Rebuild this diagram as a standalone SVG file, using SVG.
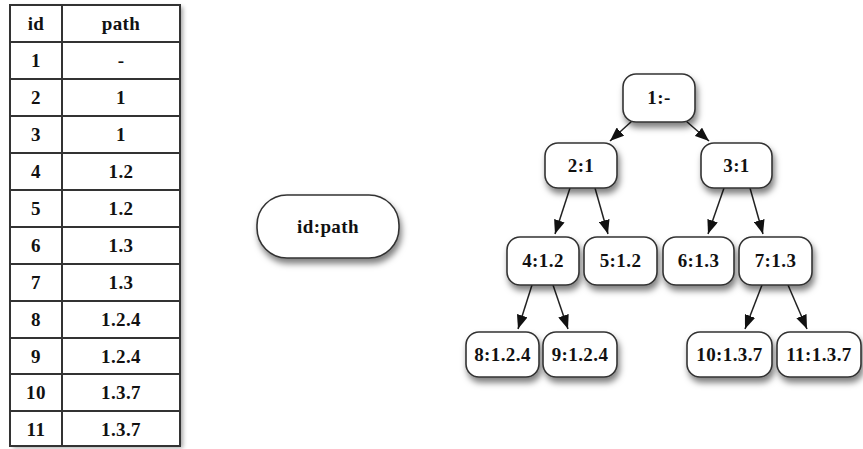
<svg xmlns="http://www.w3.org/2000/svg" width="863" height="449" viewBox="0 0 863 449">
<style>
  .t{font-family:"Liberation Serif","Times New Roman",serif;font-weight:bold;font-size:19px;letter-spacing:0.4px;fill:#111;text-anchor:middle}
  .node{fill:#fff;stroke:#333;stroke-width:1.6}
  .edge{stroke:#222;stroke-width:1.5;fill:none}
  .grid{stroke:#333;stroke-width:2;fill:none}
</style>
<defs>
  <filter id="sh" x="-20%" y="-20%" width="150%" height="160%">
    <feDropShadow dx="2" dy="5" stdDeviation="3" flood-color="#000" flood-opacity="0.5"/>
  </filter>
  <filter id="tsh" x="-5%" y="-5%" width="115%" height="110%">
    <feDropShadow dx="3" dy="2" stdDeviation="2" flood-color="#000" flood-opacity="0.35"/>
  </filter>
  <marker id="ah" viewBox="0 0 14 11" refX="14" refY="5.5" markerWidth="14" markerHeight="11" markerUnits="userSpaceOnUse" orient="auto">
    <path d="M0,0 L14,5.5 L0,11 z" fill="#111"/>
  </marker>
</defs>
<rect width="863" height="449" fill="#fff"/>

<g id="table">
  <rect x="10" y="5" width="170" height="441" fill="#fff" filter="url(#tsh)"/>
  <rect class="grid" x="10" y="5" width="170" height="441"/>
  <line class="grid" x1="62" y1="5" x2="62" y2="446"/>
  <g class="grid">
    <line x1="10" y1="42" x2="180" y2="42"/>
    <line x1="10" y1="79" x2="180" y2="79"/>
    <line x1="10" y1="116" x2="180" y2="116"/>
    <line x1="10" y1="153" x2="180" y2="153"/>
    <line x1="10" y1="190" x2="180" y2="190"/>
    <line x1="10" y1="227" x2="180" y2="227"/>
    <line x1="10" y1="264" x2="180" y2="264"/>
    <line x1="10" y1="301" x2="180" y2="301"/>
    <line x1="10" y1="338" x2="180" y2="338"/>
    <line x1="10" y1="374" x2="180" y2="374"/>
    <line x1="10" y1="411" x2="180" y2="411"/>
  </g>
  <text class="t" x="36" y="30">id</text><text class="t" x="121" y="30">path</text>
  <text class="t" x="36" y="67">1</text><text class="t" x="121" y="67">-</text>
  <text class="t" x="36" y="104">2</text><text class="t" x="121" y="104">1</text>
  <text class="t" x="36" y="141">3</text><text class="t" x="121" y="141">1</text>
  <text class="t" x="36" y="178">4</text><text class="t" x="121" y="178">1.2</text>
  <text class="t" x="36" y="215">5</text><text class="t" x="121" y="215">1.2</text>
  <text class="t" x="36" y="252">6</text><text class="t" x="121" y="252">1.3</text>
  <text class="t" x="36" y="289">7</text><text class="t" x="121" y="289">1.3</text>
  <text class="t" x="36" y="326">8</text><text class="t" x="121" y="326">1.2.4</text>
  <text class="t" x="36" y="363">9</text><text class="t" x="121" y="363">1.2.4</text>
  <text class="t" x="36" y="399">10</text><text class="t" x="121" y="399">1.3.7</text>
  <text class="t" x="36" y="436">11</text><text class="t" x="121" y="436">1.3.7</text>
</g>

<g id="legend">
  <rect class="node" x="257" y="195" width="142" height="63" rx="30" filter="url(#sh)"/>
  <text class="t" x="328" y="233">id:path</text>
</g>

<g id="connectors">
  <line class="edge" x1="632" y1="121" x2="610" y2="141" marker-end="url(#ah)"/>
  <line class="edge" x1="686" y1="121" x2="709" y2="141" marker-end="url(#ah)"/>
  <line class="edge" x1="570" y1="188" x2="555" y2="234" marker-end="url(#ah)"/>
  <line class="edge" x1="595" y1="188" x2="608" y2="234" marker-end="url(#ah)"/>
  <line class="edge" x1="724" y1="188" x2="708" y2="234" marker-end="url(#ah)"/>
  <line class="edge" x1="750" y1="188" x2="763" y2="234" marker-end="url(#ah)"/>
  <line class="edge" x1="532" y1="285" x2="518" y2="329" marker-end="url(#ah)"/>
  <line class="edge" x1="553" y1="285" x2="568" y2="329" marker-end="url(#ah)"/>
  <line class="edge" x1="762" y1="285" x2="745" y2="329" marker-end="url(#ah)"/>
  <line class="edge" x1="788" y1="285" x2="807" y2="329" marker-end="url(#ah)"/>
</g>

<g id="n1"><rect class="node" x="623" y="74" width="72" height="48" rx="13" filter="url(#sh)"/><text class="t" x="659" y="104">1:-</text></g>
<g id="n2"><rect class="node" x="545" y="143" width="72" height="45" rx="13" filter="url(#sh)"/><text class="t" x="581" y="172">2:1</text></g>
<g id="n3"><rect class="node" x="701" y="143" width="71" height="45" rx="13" filter="url(#sh)"/><text class="t" x="736.5" y="172">3:1</text></g>
<g id="n4"><rect class="node" x="507" y="237" width="72" height="48" rx="13" filter="url(#sh)"/><text class="t" x="543" y="267">4:1.2</text></g>
<g id="n5"><rect class="node" x="584" y="237" width="73" height="48" rx="13" filter="url(#sh)"/><text class="t" x="620.5" y="267">5:1.2</text></g>
<g id="n6"><rect class="node" x="663" y="237" width="71" height="48" rx="13" filter="url(#sh)"/><text class="t" x="698.5" y="267">6:1.3</text></g>
<g id="n7"><rect class="node" x="739" y="237" width="73" height="48" rx="13" filter="url(#sh)"/><text class="t" x="775.5" y="267">7:1.3</text></g>
<g id="n8"><rect class="node" x="466" y="332" width="73" height="45" rx="13" filter="url(#sh)"/><text class="t" x="502.5" y="361">8:1.2.4</text></g>
<g id="n9"><rect class="node" x="543" y="332" width="74" height="45" rx="13" filter="url(#sh)"/><text class="t" x="580" y="361">9:1.2.4</text></g>
<g id="n10"><rect class="node" x="687" y="332" width="85" height="45" rx="13" filter="url(#sh)"/><text class="t" x="729.5" y="361">10:1.3.7</text></g>
<g id="n11"><rect class="node" x="777" y="332" width="84" height="45" rx="13" filter="url(#sh)"/><text class="t" x="819" y="361">11:1.3.7</text></g>
</svg>
